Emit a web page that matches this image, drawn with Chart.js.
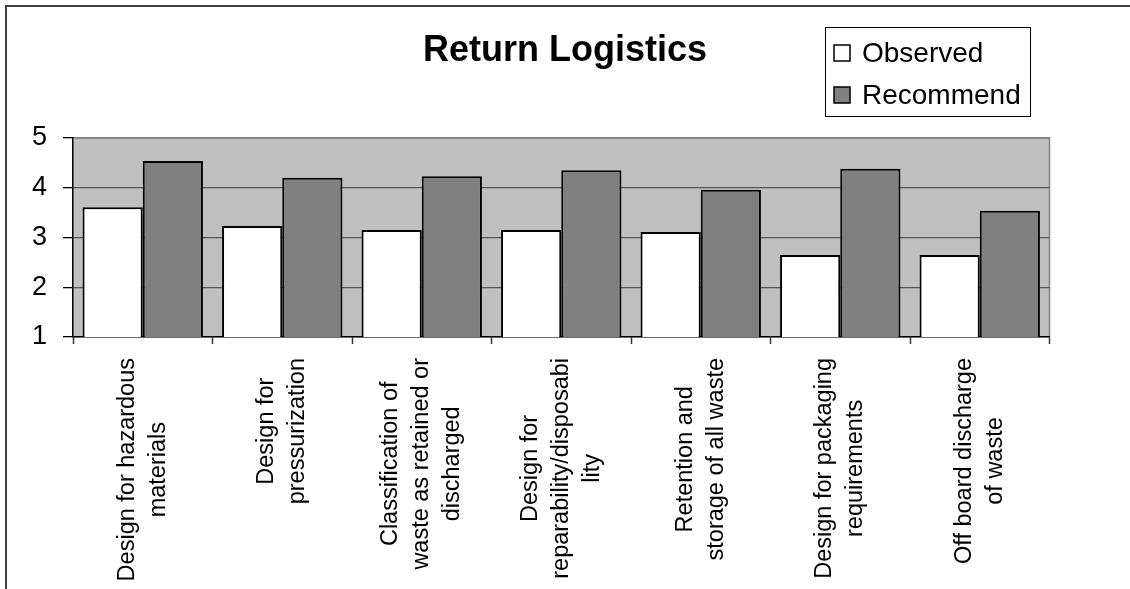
<!DOCTYPE html>
<html>
<head>
<meta charset="utf-8">
<title>Return Logistics</title>
<script src="https://cdn.jsdelivr.net/npm/chart.js@4.4.1/dist/chart.umd.min.js"></script>
<style>
  html, body { margin: 0; padding: 0; background: #ffffff; overflow: hidden; }
  #wrap { position: relative; width: 1130px; height: 589px; }
</style>
</head>
<body>
<div id="wrap"><canvas id="chart"></canvas></div>
<script>
// Category labels, already broken into the lines they are printed on
const categories = [
  ["Design for hazardous", "materials"],
  ["Design for", "pressurization"],
  ["Classification of", "waste as retained or", "discharged"],
  ["Design for", "reparability/disposabi", "lity"],
  ["Retention and", "storage of all waste"],
  ["Design for packaging", "requirements"],
  ["Off board discharge", "of waste"]
];

const observed  = [3.61, 3.23, 3.15, 3.15, 3.11, 2.65, 2.65];
const recommend = [4.54, 4.20, 4.23, 4.35, 3.96, 4.38, 3.54];

const seriesNames = ["Observed", "Recommend"];
const yMin = 1;
const yMax = 5;
const yStep = 1;

const FONT = '"Liberation Sans", Arial, Helvetica, sans-serif';

// Grey plot background, outer frame and plot border
const framePlugin = {
  id: 'frame',
  beforeDraw(chart) {
    const { ctx, chartArea: a, width, height } = chart;
    ctx.save();
    ctx.fillStyle = '#ffffff';
    ctx.fillRect(0, 0, width, height);
    ctx.fillStyle = '#c0c0c0';
    ctx.fillRect(a.left, a.top, a.right - a.left, a.bottom - a.top);
    // plot border on the top and right sides
    ctx.strokeStyle = '#808080';
    ctx.lineWidth = 1.5;
    ctx.beginPath();
    ctx.moveTo(a.left, a.top);
    ctx.lineTo(a.right, a.top);
    ctx.lineTo(a.right, a.bottom);
    ctx.stroke();
    // chart frame (left and top edges)
    ctx.strokeStyle = '#404040';
    ctx.lineWidth = 2;
    ctx.beginPath();
    ctx.moveTo(6, height);
    ctx.lineTo(6, 6);
    ctx.lineTo(width, 6);
    ctx.stroke();
    ctx.restore();
  }
};

// Rotated category labels: each block hangs from just below the axis,
// its lines centred on the longest one
const categoryLabelPlugin = {
  id: 'categoryLabels',
  afterDraw(chart) {
    const { ctx } = chart;
    const xs = chart.scales.x;
    const top = chart.chartArea.bottom + 21;
    const step = 31;
    ctx.save();
    ctx.font = '23.5px ' + FONT;
    ctx.fillStyle = '#000000';
    ctx.textAlign = 'center';
    ctx.textBaseline = 'middle';
    chart.data.labels.forEach((lines, i) => {
      const x = xs.getPixelForValue(i);
      const n = lines.length;
      const longest = Math.max(...lines.map((l) => ctx.measureText(l).width));
      const mid = top + longest / 2;
      lines.forEach((line, j) => {
        ctx.save();
        ctx.translate(x + (j - (n - 1) / 2) * step, mid);
        ctx.rotate(-Math.PI / 2);
        ctx.fillText(line, 0, 0);
        ctx.restore();
      });
    });
    ctx.restore();
  }
};

// Boxed legend at the top right
const legendBoxPlugin = {
  id: 'legendBox',
  afterDraw(chart) {
    const { ctx } = chart;
    const box = { x: 825, y: 27, w: 205, h: 89 };
    ctx.save();
    ctx.fillStyle = '#ffffff';
    ctx.fillRect(box.x, box.y, box.w, box.h);
    ctx.strokeStyle = '#000000';
    ctx.lineWidth = 1;
    ctx.strokeRect(box.x + 0.5, box.y + 0.5, box.w, box.h);
    ctx.font = '28px ' + FONT;
    ctx.textAlign = 'left';
    ctx.textBaseline = 'middle';
    chart.data.datasets.forEach((ds, i) => {
      const cy = box.y + 26 + i * 42;
      ctx.fillStyle = ds.backgroundColor;
      ctx.fillRect(box.x + 9, cy - 8, 16, 16);
      ctx.strokeStyle = '#000000';
      ctx.lineWidth = 1.5;
      ctx.strokeRect(box.x + 9, cy - 8, 16, 16);
      ctx.fillStyle = '#000000';
      ctx.fillText(ds.label, box.x + 37, cy + 1);
    });
    ctx.restore();
  }
};

new Chart(document.getElementById('chart'), {
  type: 'bar',
  data: {
    labels: categories,
    datasets: [
      {
        label: seriesNames[0],
        data: observed,
        backgroundColor: '#ffffff',
        borderColor: '#000000',
        borderWidth: { top: 2, left: 2, right: 2, bottom: 0 },
        borderSkipped: 'bottom'
      },
      {
        label: seriesNames[1],
        data: recommend,
        backgroundColor: '#808080',
        borderColor: '#000000',
        borderWidth: { top: 2, left: 2, right: 2, bottom: 0 },
        borderSkipped: 'bottom'
      }
    ]
  },
  options: {
    responsive: true,
    maintainAspectRatio: false,
    animation: false,
    events: [],
    layout: { padding: { left: 0, right: 0, top: 0, bottom: 245 } },
    datasets: { bar: { categoryPercentage: 0.863, barPercentage: 1.0 } },
    plugins: {
      legend: { display: false },
      tooltip: { enabled: false },
      title: {
        display: true,
        text: 'Return Logistics',
        color: '#000000',
        font: { family: FONT, size: 36, weight: 'bold' },
        padding: { top: 29, bottom: 65.8 }
      }
    },
    scales: {
      x: {
        offset: true,
        grid: {
          offset: true,
          drawOnChartArea: false,
          drawTicks: true,
          tickLength: 7,
          tickColor: '#333333',
          tickWidth: 1.5
        },
        border: { display: true, color: '#000000', width: 1.5 },
        ticks: { display: false }
      },
      y: {
        min: yMin,
        max: yMax,
        afterFit(scale) { scale.width = 73; },
        ticks: {
          stepSize: yStep,
          padding: 16,
          color: '#000000',
          font: { family: FONT, size: 27 }
        },
        grid: {
          color: (c) => (c.tick && c.tick.value === yMax ? '#808080' : '#555555'),
          lineWidth: 1.3,
          drawTicks: true,
          tickLength: 10,
          tickColor: '#000000'
        },
        border: { display: true, color: '#000000', width: 1.5 }
      },
      // empty margin on the right of the plot
      yRight: {
        position: 'right',
        display: true,
        afterFit(scale) { scale.width = 80.5; },
        ticks: { display: false },
        grid: { display: false },
        border: { display: false }
      }
    }
  },
  plugins: [framePlugin, categoryLabelPlugin, legendBoxPlugin]
});
</script>
</body>
</html>
